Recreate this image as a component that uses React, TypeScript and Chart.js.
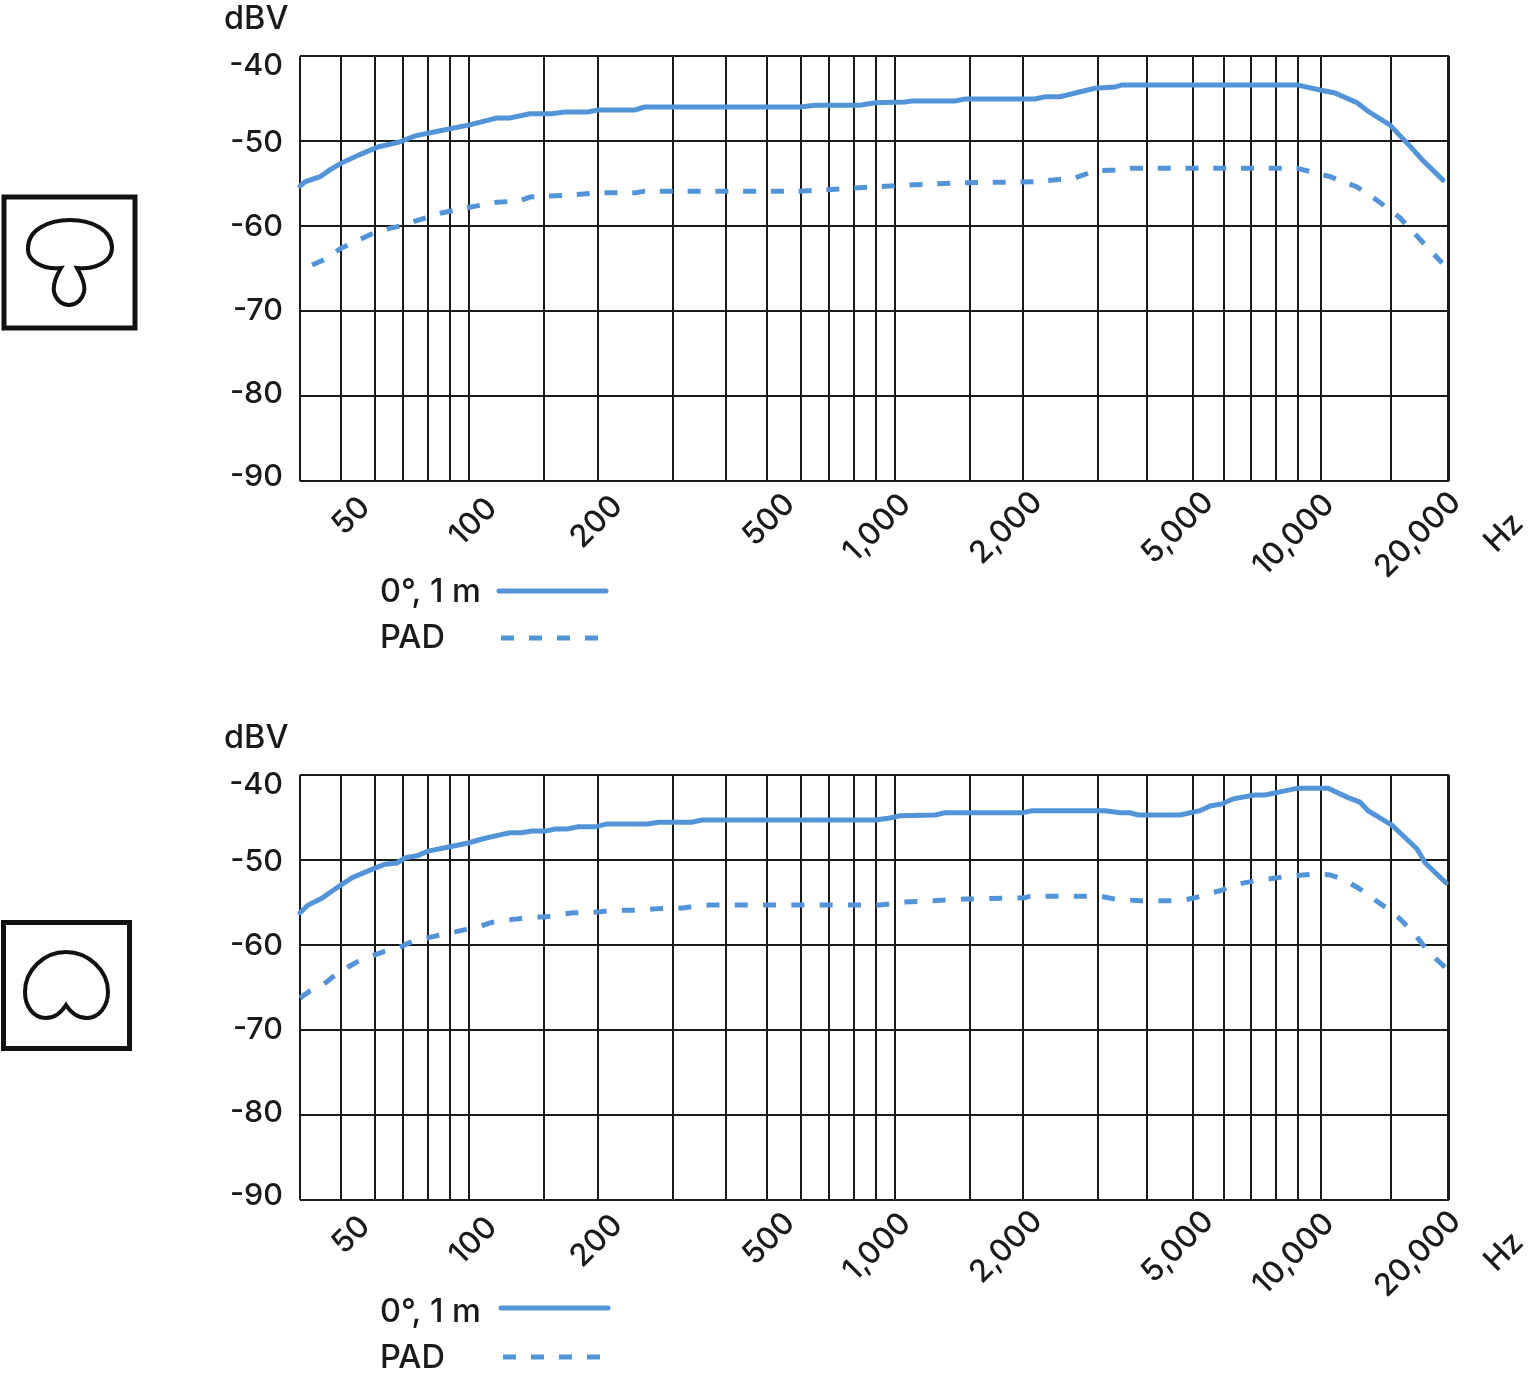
import React, { useEffect, useRef } from "react";
import { Chart, registerables } from "chart.js";

Chart.register(...registerables);

// ---- data ----
// Grid lines; the labelled ones sit on their nominal frequency.
const gridFrequencies = [40, 50, 60, 70, 80, 90, 100, 150, 200, 300, 400, 500, 600, 700, 800, 900, 1000, 1500, 2000, 3000, 3908, 5000, 5925, 6856, 7847, 8833, 10000, 14620, 19850, 20000];
const labelledFrequencies = [50, 100, 200, 500, 1000, 2000, 5000, 10000, 20000];
const levelTicks = [-40, -50, -60, -70, -80, -90];
const seriesNames = ["0°, 1 m", "PAD"];

const superSolidHz = [40, 41.1, 44.6, 47, 50, 55.3, 61, 68.7, 74.5, 85.3, 100, 116, 124.4, 138.7, 156, 167.6, 189, 200, 245, 258, 598, 649, 826, 897, 1055, 1097, 1384, 1460, 2133, 2250, 2439, 2946, 3283, 3412, 8790, 9950, 10790, 12160, 12910, 14520, 16190, 17300, 19360];
const superSolidDb = [-55.3, -54.8, -54.2, -53.4, -52.6, -51.6, -50.7, -50.1, -49.4, -48.8, -48.1, -47.3, -47.3, -46.8, -46.8, -46.6, -46.6, -46.35, -46.35, -46, -46, -45.8, -45.8, -45.5, -45.4, -45.3, -45.3, -45.05, -45.05, -44.8, -44.8, -43.8, -43.65, -43.4, -43.4, -44, -44.35, -45.5, -46.5, -48.1, -50.6, -52.2, -54.6];

const superPadHz = [42.7, 45.8, 50, 61, 68.7, 85.3, 100, 116, 131.5, 138.7, 172, 203, 245, 258, 598, 826, 1055, 1460, 2133, 2645, 2946, 3283, 3565, 8790, 10510, 12160, 13620, 15350, 16900, 19270];
const superPadDb = [-64.6, -63.9, -62.6, -60.6, -60, -58.5, -57.8, -57.2, -57.05, -56.6, -56.35, -56.1, -56.1, -55.9, -55.9, -55.5, -55.2, -54.9, -54.8, -54.35, -53.5, -53.4, -53.2, -53.2, -54.2, -55.4, -57.05, -59.05, -61.3, -64.35];

const cardioidSolidHz = [40, 41.8, 45, 47.6, 49.6, 52.9, 56.2, 60, 63.4, 67.6, 70.6, 75.3, 80, 90, 99.3, 107.6, 118, 124.4, 132.8, 140.3, 150.6, 158.8, 169.5, 180, 197, 210.6, 262.7, 277.5, 333, 351.7, 897, 973, 1026, 1242, 1309, 1985, 2095, 3113, 3375, 3565, 3717, 4670, 5200, 5497, 5862, 6225, 7000, 7397, 8830, 10400, 11510, 12360, 12910, 14690, 16830, 17590, 19690];
const cardioidSolidDb = [-56.2, -55.3, -54.5, -53.65, -53.05, -52.1, -51.55, -50.95, -50.5, -50.35, -49.75, -49.5, -48.95, -48.45, -48, -47.5, -47.05, -46.8, -46.8, -46.6, -46.6, -46.35, -46.35, -46.1, -46.1, -45.75, -45.75, -45.55, -45.55, -45.3, -45.3, -45.05, -44.8, -44.7, -44.45, -44.45, -44.2, -44.2, -44.45, -44.45, -44.7, -44.7, -44.2, -43.65, -43.4, -42.8, -42.35, -42.35, -41.55, -41.55, -42.6, -43.2, -44.2, -45.9, -48.7, -50.35, -52.7];

const cardioidPadHz = [40, 42.2, 45.3, 47.8, 51, 54.4, 59, 62.7, 68, 72.1, 77.8, 83, 90, 96.6, 104.7, 111.7, 121.2, 129.3, 140.3, 150.6, 162.3, 175, 189, 202.7, 219.8, 254, 273, 296, 317.8, 342.6, 367.4, 920, 1055, 1460, 2019, 2075, 3028, 3283, 3760, 4670, 5060, 5408, 5862, 6225, 6745, 7195, 7890, 8323, 9685, 10510, 11220, 12160, 12770, 13620, 14380, 15350, 16110, 16900, 17670, 18750, 19780];
const cardioidPadDb = [-66.25, -65.4, -64.7, -63.75, -62.8, -62, -61.3, -60.8, -60.35, -59.75, -59.3, -58.95, -58.6, -58.25, -57.9, -57.4, -57.05, -56.95, -56.7, -56.7, -56.45, -56.2, -56.2, -56.1, -55.9, -55.9, -55.75, -55.65, -55.65, -55.4, -55.3, -55.3, -54.95, -54.6, -54.45, -54.25, -54.25, -54.6, -54.8, -54.8, -54.45, -54, -53.55, -52.95, -52.6, -52.35, -52.1, -51.9, -51.65, -51.75, -52.25, -53.2, -53.9, -54.95, -55.75, -56.95, -58, -59.2, -60.45, -61.75, -62.8];

// ---- style and layout ----
const INK = "#1a1a1a";
const BLUE = "#5294d7";
const FONT_Y = '500 30.5px Inter, "Noto Sans", sans-serif';
const FONT_X = '500 31px Inter, "Noto Sans", sans-serif';
const FONT_TEXT = '500 32.5px Inter, "Noto Sans", sans-serif';
const LEGEND_DASH = [13, 15];
const CANVAS_W = 1533;
const CANVAS_H = 659;
const xLabelShift: Record<number, [number, number]> = {
  50: [10, 35], 100: [4, 41], 200: [-1, 41], 500: [2, 39], 1000: [-18, 47],
  2000: [-17, 47], 5000: [-15, 47], 10000: [-27, 54], 20000: [-31, 54],
};
const yLabelShift: Record<number, number> = { [-40]: 10, [-50]: 2, [-60]: 1, [-70]: 0, [-80]: -2, [-90]: -4 };

const zip = (xs: number[], ys: number[]) => xs.map((x, i) => ({ x, y: ys[i] }));

const axisLabels = {
  id: "axisLabels",
  afterDraw(chart: any, _a: any, opts: any) {
    const { ctx, scales, chartArea } = chart;
    ctx.save();
    ctx.fillStyle = INK;
    ctx.textBaseline = "middle";
    // y ticks
    ctx.font = FONT_Y;
    ctx.textAlign = "right";
    for (const t of scales.y.ticks) {
      ctx.fillText(t.label, 283, scales.y.getPixelForValue(t.value) + yLabelShift[t.value]);
    }
    ctx.font = FONT_TEXT;
    ctx.textAlign = "left";
    ctx.fillText("dBV", 224, 19);
    // x ticks
    ctx.font = FONT_X;
    ctx.textAlign = "center";
    scales.x.ticks.forEach((t: any) => {
      if (!t.label) return;
      const [dx, dy] = xLabelShift[t.value];
      ctx.save();
      ctx.translate(scales.x.getPixelForValue(t.value) + dx, chartArea.bottom + dy);
      ctx.rotate(-Math.PI / 4);
      ctx.fillText(t.label, 0, 0);
      ctx.restore();
    });
    ctx.save();
    ctx.translate(1504, 533);
    ctx.rotate(-Math.PI / 4);
    ctx.fillText("Hz", 0, 0);
    ctx.restore();
    // legend
    ctx.font = FONT_TEXT;
    ctx.textAlign = "left";
    chart.data.datasets.forEach((d: any, i: number) => {
      const row = opts.rows[i];
      ctx.fillStyle = INK;
      ctx.fillText(d.label, 380, row.textY);
      ctx.beginPath();
      ctx.strokeStyle = d.borderColor;
      ctx.lineWidth = d.borderWidth;
      ctx.lineCap = d.borderDash ? "butt" : "round";
      ctx.setLineDash(d.borderDash ? LEGEND_DASH : []);
      ctx.moveTo(row.x0, row.lineY);
      ctx.lineTo(row.x1, row.lineY);
      ctx.stroke();
      ctx.setLineDash([]);
    });
    ctx.restore();
  },
};

type Row = { textY: number; lineY: number; x0: number; x1: number };

function FrequencyChart({ top, solid, pad, rows, dash }: { top: number; solid: any[]; pad: any[]; rows: Row[]; dash: number[] }) {
  const ref = useRef<HTMLCanvasElement>(null);
  useEffect(() => {
    const chart = new Chart(ref.current!, {
      type: "line",
      data: {
        datasets: [
          { label: seriesNames[0], data: solid, borderColor: BLUE, borderWidth: 5, borderCapStyle: "round", pointRadius: 0, tension: 0, clip: false },
          { label: seriesNames[1], data: pad, borderColor: BLUE, borderWidth: 5, borderDash: dash, borderCapStyle: "butt", pointRadius: 0, tension: 0, clip: false },
        ],
      },
      options: {
        animation: false,
        responsive: false,
        devicePixelRatio: 1,
        parsing: false,
        layout: { padding: { left: 0, top: 56, right: CANVAS_W - 1449, bottom: CANVAS_H - 481 - 100 } },
        plugins: { legend: { display: false }, tooltip: { enabled: false }, axisLabels: { rows } },
        scales: {
          x: {
            type: "logarithmic",
            min: 40,
            max: 20000,
            border: { display: false },
            grid: { color: INK, lineWidth: 2, drawTicks: false },
            ticks: {
              display: false,
              autoSkip: false,
              maxRotation: 0,
              callback: (v: any) => (labelledFrequencies.includes(Number(v)) ? Number(v).toLocaleString("en-US") : ""),
            },
            afterBuildTicks: (s: any) => {
              s.ticks = gridFrequencies.map((value) => ({ value }));
            },
            afterFit: (s: any) => {
              s.height = 100;
              s.paddingLeft = 0;
              s.paddingRight = 0;
            },
          },
          y: {
            type: "linear",
            min: -90,
            max: -40,
            border: { display: false },
            grid: { color: INK, lineWidth: 2, drawTicks: false },
            ticks: { display: false, callback: (v: any) => String(v) },
            afterBuildTicks: (s: any) => {
              s.ticks = levelTicks.map((value) => ({ value }));
            },
            afterFit: (s: any) => {
              s.width = 300;
              s.paddingTop = 0;
              s.paddingBottom = 0;
            },
          },
        },
      } as any,
      plugins: [axisLabels as any],
    } as any);
    return () => chart.destroy();
  }, []);
  return (
    <canvas
      ref={ref}
      width={CANVAS_W}
      height={CANVAS_H}
      style={{ position: "absolute", left: 0, top, width: CANVAS_W, height: CANVAS_H, display: "block" }}
    />
  );
}

export default function App() {
  return (
    <div style={{ position: "absolute", left: 0, top: 0, width: 1533, height: 1378, background: "#fff", overflow: "hidden" }}>
      <FrequencyChart
        top={0}
        solid={zip(superSolidHz, superSolidDb)}
        pad={zip(superPadHz, superPadDb)}
        dash={[13, 14.76]}
        rows={[
          { textY: 592, lineY: 591, x0: 499, x1: 606 },
          { textY: 638, lineY: 638, x0: 501, x1: 598 },
        ]}
      />
      <FrequencyChart
        top={719}
        solid={zip(cardioidSolidHz, cardioidSolidDb)}
        pad={zip(cardioidPadHz, cardioidPadDb)}
        dash={[13, 15.3]}
        rows={[
          { textY: 593, lineY: 589, x0: 501, x1: 608 },
          { textY: 639, lineY: 638, x0: 503, x1: 600 },
        ]}
      />
      <svg width={1533} height={1378} style={{ position: "absolute", left: 0, top: 0, pointerEvents: "none" }} fill="none" stroke="#111" strokeWidth={4}>
        <rect x={4} y={197} width={131} height={131} strokeWidth={5} />
        <path d="M61 268 C45 270 27 262 28 248 C28 230 48 220 70 220 C92 220 112 230 112 248 C112 262 94 270 77 268 C84 280 85 288 84 292 C82 300 76 305 69 305 C62 305 56 300 54 292 C53 286 55 278 61 268 Z" />
        <rect x={3.5} y={922.5} width={126} height={126} strokeWidth={5} />
        <path d="M66 1005 C61 1013 54 1018 46 1018 C33 1018 25 1006 25 992 C25 970 44 952 66 952 C88 952 108 970 108 992 C108 1006 99 1018 87 1018 C78 1018 71 1013 66 1005 Z" />
      </svg>
    </div>
  );
}
